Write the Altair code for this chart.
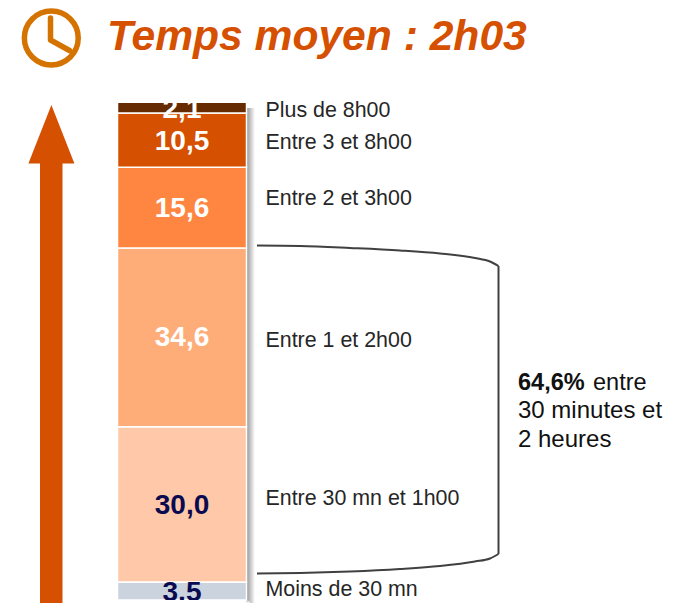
import altair as alt
import pandas as pd

# ---- data ----
values = [3.5, 30.0, 34.6, 15.6, 10.5, 2.1]
value_labels = ["3,5", "30,0", "34,6", "15,6", "10,5", "2,1"]
categories = ["Moins de 30 mn", "Entre 30 mn et 1h00", "Entre 1 et 2h00",
              "Entre 2 et 3h00", "Entre 3 et 8h00", "Plus de 8h00"]
colors = ["#CBD3DF", "#FFC8A8", "#FFAD78", "#FF8640", "#D55000", "#662B00"]
value_colors = ["#0A0A50", "#0A0A50", "white", "white", "white", "white"]
title_text = "Temps moyen : 2h03"
note_lines = ["30 minutes et", "2 heures"]

# ---- layout (page pixels, the plot starts at 8,8) ----
W, H = 661, 595
PX_PER_PCT = 5.17
label_y = [590, 499, 341, 199, 143, 111]
value_dy = [2, 2, 1, 1, 2, 2.5]


def px(v):
    return v - 8


rows, acc = [], 0.0
for i, v in enumerate(values):
    rows.append(dict(cat=categories[i], start=acc, end=acc + v,
                     mid=acc + v / 2 - value_dy[i] / PX_PER_PCT,
                     val=value_labels[i], ly=px(label_y[i]),
                     color=colors[i], tcolor=value_colors[i]))
    acc += v
df = pd.DataFrame(rows)

y_scale = alt.Scale(domain=[-3 / PX_PER_PCT, 592 / PX_PER_PCT], range=[H, 0], nice=False, zero=False)
dummy = alt.Data(values=[{"a": 1}])


def rect(x0, x1, y0, y1, fill, **kw):
    return alt.Chart(dummy).mark_rect(fill=fill, **kw).encode(
        x=alt.value(px(x0)), x2=alt.value(px(x1)), y=alt.value(px(y0)), y2=alt.value(px(y1)))


def poly_line(pts, **kw):
    d = pd.DataFrame(pts, columns=["x", "y"])
    d["x"] -= 8
    d["y"] -= 8
    d["o"] = range(len(d))
    return alt.Chart(d).mark_line(**kw).encode(
        x=alt.X("x:Q", scale=None, axis=None), y=alt.Y("y:Q", scale=None, axis=None), order="o:Q")


# arrow
shaft = rect(40, 62.5, 163, 603, "#D55000")
head = alt.Chart(dummy).mark_point(shape="M-1,1.27L0,-1.27L1,1.27Z", size=2116, filled=True,
                                   fill="#D55000", stroke=None, opacity=1).encode(
    x=alt.value(px(51.4)), y=alt.value(px(134.3)))

# clock
ring = alt.Chart(dummy).mark_point(shape="circle", size=2900, filled=False, stroke="#D57300",
                                   strokeWidth=5.5, opacity=1).encode(
    x=alt.value(px(51.3)), y=alt.value(px(38)))
hands = poly_line([(50.5, 18), (50.5, 40), (69.5, 50.5)], stroke="#D57300", strokeWidth=5.5,
                  strokeCap="round", strokeJoin="round")

# bar shadow
shadow_grad = alt.Gradient(gradient="linear", x1=0, x2=1, y1=0, y2=0,
                           stops=[alt.GradientStop(offset=0, color="#8E8E8E"),
                                  alt.GradientStop(offset=1, color="#FFFFFF")])
shadow_r = alt.Chart(dummy).mark_rect(fill=shadow_grad).encode(
    x=alt.value(px(246)), x2=alt.value(px(255)), y=alt.value(px(108)), y2=alt.value(px(603)))
shadow_grad_v = alt.Gradient(gradient="linear", x1=0, x2=0, y1=0, y2=1,
                             stops=[alt.GradientStop(offset=0, color="#B0B0B0"),
                                    alt.GradientStop(offset=1, color="#FFFFFF")])
shadow_b = alt.Chart(dummy).mark_rect(fill=shadow_grad_v).encode(
    x=alt.value(px(122)), x2=alt.value(px(250)), y=alt.value(px(600)), y2=alt.value(px(603)))

# stacked bar, drawn from the values
bars = alt.Chart(df).mark_bar(stroke="white", strokeWidth=1.5).encode(
    x=alt.value(px(117.5)), x2=alt.value(px(246.5)),
    y=alt.Y("start:Q", scale=y_scale, axis=None), y2="end:Q",
    fill=alt.Fill("color:N", scale=None))

vals = alt.Chart(df).mark_text(font="Liberation Sans", fontWeight="bold", fontSize=28,
                               align="center", baseline="middle").encode(
    x=alt.value(px(182)), y=alt.Y("mid:Q", scale=y_scale, axis=None),
    text="val:N", fill=alt.Fill("tcolor:N", scale=None))

# clip of the two overflowing numbers
mask_top = rect(118, 246, 90, 102, "white")
mask_bot = rect(118, 246, 600, 603, "white")

labels = alt.Chart(df).mark_text(font="Liberation Sans", fontSize=21.4, align="left", baseline="middle",
                                 color="#262626").encode(
    x=alt.value(px(265.5)), y=alt.Y("ly:Q", scale=None, axis=None), text="cat:N")

# bracket
b_top = poly_line([(257, 245.5), (300, 246), (350, 248), (400, 250.5), (440, 253.5), (475, 258), (490, 261.5),
                   (498.5, 266)], stroke="#404040", strokeWidth=2, interpolate="monotone")
b_bot = poly_line([(257, 573.5), (300, 573), (350, 571.5), (400, 569), (440, 566), (475, 561.5), (490, 558.5),
                   (498.5, 554)], stroke="#404040", strokeWidth=2, interpolate="monotone")
b_v = poly_line([(498.5, 266), (498.5, 554)], stroke="#404040", strokeWidth=2)


def text(txt, x, y, **kw):
    return alt.Chart(alt.Data(values=[{"t": txt}])).mark_text(
        font="Liberation Sans", align="left", baseline="alphabetic", **kw).encode(
        x=alt.value(px(x)), y=alt.value(px(y)), text="t:N")


title = text(title_text, 107, 50, fontSize=42.6, fontWeight="bold", fontStyle="italic", color="#D55000")
n1 = text("64,6%", 518, 390, fontSize=23.5, fontWeight="bold", color="#111111")
n1b = text("entre", 593, 390, fontSize=23.5, color="#111111")
n2 = text(note_lines[0], 518, 418, fontSize=24, color="#111111")
n3 = text(note_lines[1], 518, 447, fontSize=24, color="#111111")

chart = alt.layer(shaft, head, ring, hands, shadow_r, shadow_b, bars, vals, mask_top, mask_bot,
                  labels, b_top, b_bot, b_v, title, n1, n1b, n2, n3).resolve_scale(
    x="independent", y="independent"
).properties(width=W, height=H, padding=0, autosize=alt.AutoSizeParams(type="none"),
             background="white").configure_view(stroke=None)

chart.save("out.html", embed_options={"renderer": "svg", "actions": False})
